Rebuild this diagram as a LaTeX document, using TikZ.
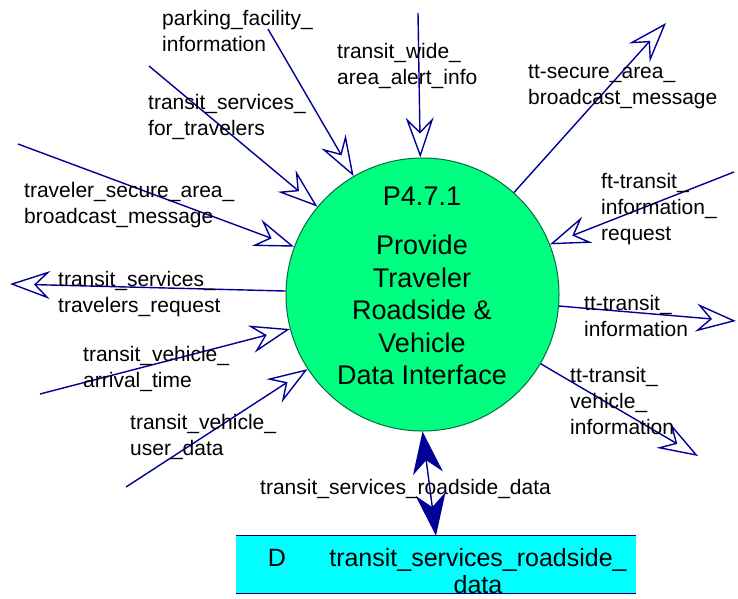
\documentclass[tikz,border=0pt]{standalone}
\usepackage{fontspec}
\setmainfont{Liberation Sans}
\usetikzlibrary{arrows.meta}
\definecolor{flow}{RGB}{0,0,150}
\definecolor{procfill}{RGB}{0,255,128}
\definecolor{procline}{RGB}{0,110,60}
\definecolor{storefill}{RGB}{0,255,255}
\definecolor{storeline}{RGB}{0,0,120}
\begin{document}
\begin{tikzpicture}[x=1pt,y=-1pt,
  flowline/.style={draw=flow, line width=1.4pt, -{Stealth[open, length=40pt, width=28pt, inset=14pt, line width=1.4pt]}},
  biline/.style={draw=flow, line width=1.4pt, {Stealth[length=42pt, width=30pt, inset=13pt]}-{Stealth[length=42pt, width=30pt, inset=13pt]}},
  lbl/.style={font=\fontsize{21}{26}\selectfont, align=left, anchor=base west, inner sep=0pt},
  proc/.style={circle, draw=procline, fill=procfill, line width=1pt, minimum size=273pt, inner sep=0pt},
  proctext/.style={font=\fontsize{27}{32.5}\selectfont, align=center, inner sep=0pt},
  store/.style={rectangle, fill=storefill, minimum width=400pt, minimum height=57pt, inner sep=0pt},
  storetext/.style={font=\fontsize{25}{27}\selectfont, inner sep=0pt}
]
\useasboundingbox (0,0) rectangle (738,598);

% process
\node[proc] (p) at (422.5,294.5) {};
\node[proctext, anchor=center] (ptxt) at (422,286) {P4.7.1\\[16.5pt]Provide\\Traveler\\Roadside \&\\Vehicle\\Data Interface};

% data store
\node[store] (ds) at (436,564.5) {};
\draw[storeline, line width=1.2pt] (ds.north west) -- (ds.north east);
\draw[storeline, line width=1.2pt] (ds.south west) -- (ds.south east);
\node[storetext, anchor=base] (dsD) at (277,566) {D};
\node[storetext, anchor=base, align=center] (dsname) at (478,593) {transit\_services\_roadside\_\\data};

% free ends
\coordinate (c1) at (268,29);
\coordinate (c2) at (149,66);
\coordinate (c3) at (18,144);
\coordinate (c4) at (418,13);
\coordinate (c5) at (666,23);
\coordinate (c6) at (734,172);
\coordinate (c7) at (10,284);
\coordinate (c8) at (40,394);
\coordinate (c9) at (126,487);
\coordinate (c10) at (736,321);
\coordinate (c11) at (698,456);

% flows
\draw[flowline] (c1) -- (p);
\draw[flowline] (c2) -- (p);
\draw[flowline] (c3) -- (p);
\draw[flowline] (c4) -- (p);
\draw[flowline] (p) -- (c5);
\draw[flowline] (c6) -- (p);
\draw[flowline] (p) -- (c7);
\draw[flowline] (c8) -- (p);
\draw[flowline] (c9) -- (p);
\draw[flowline] (p) -- (c10);
\draw[flowline] (p) -- (c11);
\draw[biline] (p.south) -- (ds.north);

% labels (anchored at the baseline of the last line)
\node[lbl] (l1) at (162,51) {parking\_facility\_\\information};
\node[lbl] (l2) at (148,135) {transit\_services\_\\for\_travelers};
\node[lbl] (l3) at (24,223) {traveler\_secure\_area\_\\broadcast\_message};
\node[lbl] (l4) at (337,84) {transit\_wide\_\\area\_alert\_info};
\node[lbl] (l5) at (528,104) {tt-secure\_area\_\\broadcast\_message};
\node[lbl] (l6) at (601,240) {ft-transit\_\\information\_\\request};
\node[lbl] (l7) at (58,312) {transit\_services\_\\travelers\_request};
\node[lbl] (l8) at (83,387) {transit\_vehicle\_\\arrival\_time};
\node[lbl] (l9) at (130,455) {transit\_vehicle\_\\user\_data};
\node[lbl] (l10) at (584,336) {tt-transit\_\\information};
\node[lbl] (l11) at (570,434) {tt-transit\_\\vehicle\_\\information};
\node[lbl] (l12) at (260,494) {transit\_services\_roadside\_data};
\end{tikzpicture}
\end{document}
